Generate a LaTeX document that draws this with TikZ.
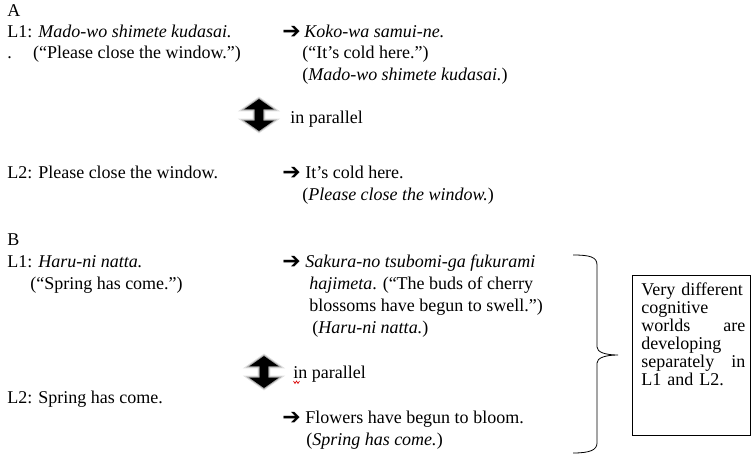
\documentclass[tikz,border=0pt]{standalone}
\usepackage{fontspec}
\setmainfont{Liberation Serif}
\newfontfamily\symbfont{DejaVu Sans}
\usetikzlibrary{shapes.arrows}

\begin{document}
\begin{tikzpicture}[
  x=0.75pt, y=-0.75pt,
  every node/.style={inner sep=0pt, font=\fontsize{13.5}{16}\selectfont},
  line/.style={anchor=base west},
  pointer/.style={anchor=base west, font=\symbfont\bfseries\fontsize{16.5}{17}\selectfont},
  updown/.style={double arrow, rotate=90, fill=black, minimum height=24pt,
    inner ysep=3pt, double arrow head extend=8pt, double arrow tip angle=110,
    preaction={draw=black, line width=3pt, opacity=0.12},
    preaction={draw=black, line width=1.5pt, opacity=0.25}},
  framebox/.style={draw, line width=0.6pt, anchor=north west}
]
  \useasboundingbox (0,0) rectangle (752,460);

  \node[line] (secA) at (7,17) {A};
  \node[line] (a1) at (7,38) {L1: \textit{Mado-wo shimete kudasai.}};
  \node[line] (a1gloss) at (7,59) {.\hspace{16pt}(“Please close the window.”)};
  \node[pointer] (aTip1) at (282,39) {➔};
  \node[line] (a1rep) at (304,38) {\textit{Koko-wa samui-ne.}};
  \node[line] (a1repgloss) at (302,59) {(“It’s cold here.”)};
  \node[line] (a1repsrc) at (302,80) {(\textit{Mado-wo shimete kudasai.})};
  \node[updown] (aPar) at (259,115) {};
  \node[line] (parA) at (290,123) {in parallel};
  \node[line] (a2) at (7,178) {L2: Please close the window.};
  \node[pointer] (aTip2) at (282,179) {➔};
  \node[line] (a2rep) at (305,178) {It’s cold here.};
  \node[line] (a2repsrc) at (302,200) {(\textit{Please close the window.})};

  \node[line] (secB) at (7,245) {B};
  \node[line] (b1) at (7,267) {L1: \textit{Haru-ni natta.}};
  \node[line] (b1gloss) at (30,289) {(“Spring has come.”)};
  \node[pointer] (bTip1) at (282,268) {➔};
  \node[line] (b1rep) at (305,267) {\textit{Sakura-no tsubomi-ga fukurami}};
  \node[line] (b1rep2) at (309,289) {\textit{hajimeta}. (“The buds of cherry};
  \node[line] (b1rep3) at (309,311) {blossoms have begun to swell.”)};
  \node[line] (b1repsrc) at (312,333) {(\textit{Haru-ni natta.})};
  \node[updown] (bPar) at (264,372) {};
  \node[line] (parB) at (293,378) {in parallel};
  \draw[red!85!black, line width=0.5pt] (parB.base west) ++(0.5,3) -- ++(1.5,2.5) -- ++(1.5,-2.5) -- ++(1.5,2.5) -- ++(1.5,-2.5);
  \node[line] (b2) at (7,403) {L2: Spring has come.};
  \node[pointer] (bTip2) at (282,424) {➔};
  \node[line] (b2rep) at (305,423) {Flowers have begun to bloom.};
  \node[line] (b2repsrc) at (306,445) {(\textit{Spring has come.})};

  \draw[line width=0.6pt] (573,255) .. controls (590,255) and (597,257) .. (597,265)
    -- (597,347) .. controls (597,352) and (605,355) .. (618,355)
    .. controls (605,355) and (597,358) .. (597,363)
    -- (597,443) .. controls (597,450) and (590,453) .. (573,453);
  \node[framebox, minimum width=88.5pt, minimum height=120pt] (frame) at (632,275) {};
  \node[anchor=north west, text width=78pt, align=left,
    font=\fontsize{13.5}{13.5}\selectfont] (note) at (641,283)
    {Very different\\ cognitive\\ worlds\hfill are\\ developing\\ separately\hfill in\\ L1 and L2.};
\end{tikzpicture}
\end{document}
